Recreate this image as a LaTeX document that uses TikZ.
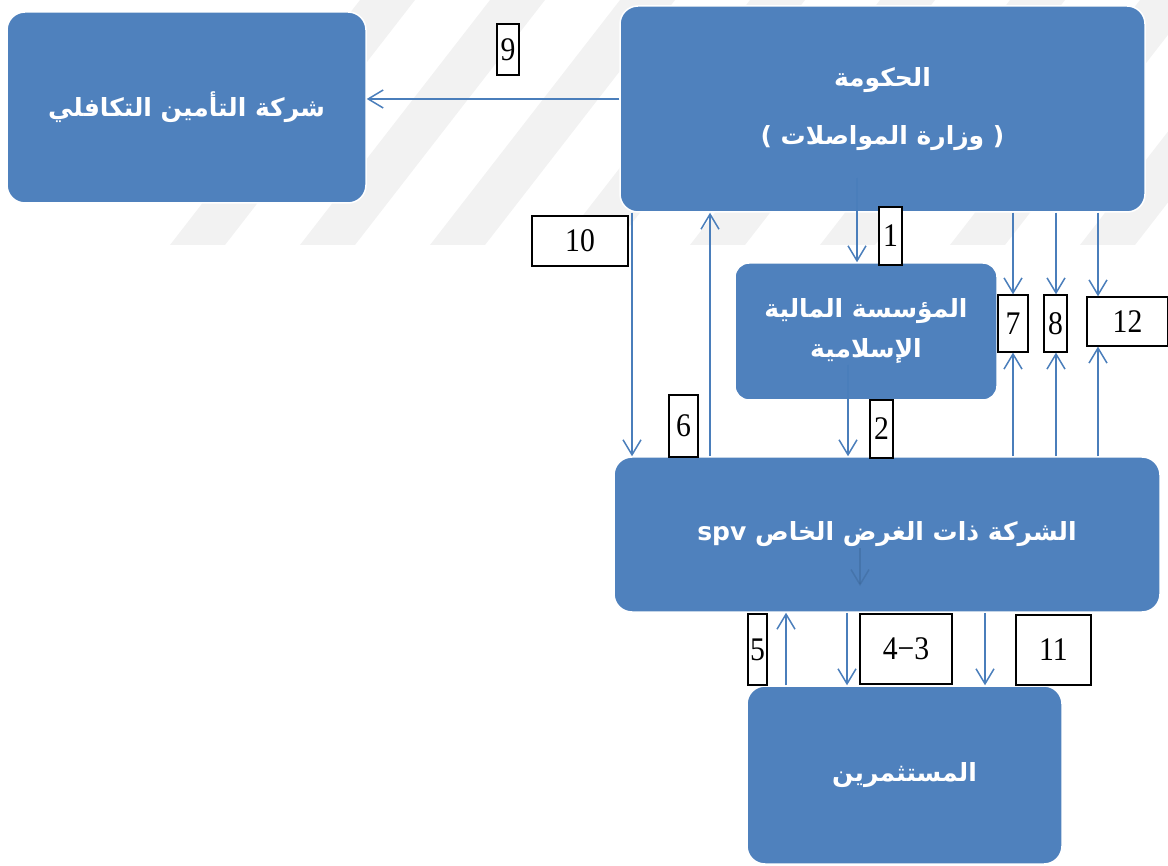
\documentclass[tikz,border=0pt]{standalone}
\usepackage{fontspec}
\setmainfont{Liberation Serif}
\newfontfamily\arabicfont[Script=Arabic]{DejaVu Sans}
\usetikzlibrary{arrows.meta}
\TeXXeTstate=1
\definecolor{boxblue}{RGB}{79,129,189}
\definecolor{lineblue}{RGB}{74,126,187}
\tikzset{>={Straight Barb[length=15pt,width=18pt]}}
\newcommand*{\rl}[1]{\beginR #1\endR}
\newcommand*{\nm}[1]{\scalebox{.9}[1]{#1}}

\begin{document}
\begin{tikzpicture}[x=1pt,y=-1pt,
  party/.style={fill=boxblue,draw=white,line width=1.5pt,rounded corners=18pt,
    text=white,align=center,inner sep=0pt,
    font=\arabicfont\bfseries\fontsize{25}{30}\selectfont},
  num/.style={draw=black,fill=white,line width=1.3pt,inner sep=0pt,
    font=\fontsize{33}{33}\selectfont},
  flow/.style={->,lineblue,line width=1.5pt}]
\useasboundingbox (0,0) rectangle (1168,866);
% watermark
\begin{scope}
\clip (0,0) rectangle (1168,245);
\foreach \x in {170,300,...,1100}
  \fill[black!5] (\x,245) -- (\x+55,245) -- (\x+245,0) -- (\x+190,0) -- cycle;
\end{scope}
\node[party,minimum width=359pt,minimum height=191pt] (tak) at (186.5,107.5)
  {\rl{شركة التأمين التكافلي}};
\node[party,minimum width=525pt,minimum height=206pt] (gov) at (882.5,109)
  {\rl{الحكومة}\\[28pt] ) \rl{وزارة المواصلات} (};
\node[party,rounded corners=14pt,minimum width=262pt,minimum height=137pt] (ifi) at (866,331.5)
  {\rl{المؤسسة المالية}\\[10pt]\rl{الإسلامية}};
\node[party,minimum width=546pt,minimum height=155pt] (spv) at (887,534.5)
  {\beginR الشركة ذات الغرض الخاص \beginL spv\endL\endR};
\node[party,minimum width=315pt,minimum height=178pt] (inv) at (904.5,775)
  {\rl{المستثمرين}};
\foreach \n/\t/\x/\y/\w/\h in {9/9/508/49.5/22/51, 10/10/580/241/96/50,
    1/1/890.5/236/23/58, 2/2/881.5/429/23/58, 6/6/683.5/426/29/62,
    7/7/1013/323.5/30/57, 8/8/1055.5/323.5/23/57, 12/12/1127.5/321.5/81/49,
    5/5/757.5/649.5/19/71, 43/4−3/906/649/92/70, 11/11/1053.5/650/75/70}
  \node[num,minimum width=\w pt,minimum height=\h pt] (n\n) at (\x,\y) {\nm{\t}};
\foreach \c/\x in {c10/632,c6/710,c7/1013,c8/1056,c12/1098,c5/786,c43/847,c11/985}
  \coordinate (\c) at (\x,0);
\coordinate (g1) at (857,178);
\coordinate (f2) at (848,365);
\coordinate (s1) at (860,548);
\coordinate (s2) at (860,586);
\draw[flow] ([yshift=10pt]gov.west) -- ([yshift=8.5pt]tak.east);
\draw[flow] (gov.south -| c10) -- (spv.north -| c10);
\draw[flow] (spv.north -| c6) -- (gov.south -| c6);
\draw[flow] (g1) -- (ifi.north -| g1);
\draw[flow] (f2) -- (spv.north -| f2);
\draw[flow,draw=lineblue!80!black,opacity=.45] (s1) -- (s2);
\foreach \n in {7,8,12} {
  \draw[flow] (gov.south -| c\n) -- (n\n.north -| c\n);
  \draw[flow] (spv.north -| c\n) -- (n\n.south -| c\n);
}
\draw[flow] (inv.north -| c5) -- (spv.south -| c5);
\draw[flow] (spv.south -| c43) -- (inv.north -| c43);
\draw[flow] (spv.south -| c11) -- (inv.north -| c11);
\end{tikzpicture}
\end{document}
